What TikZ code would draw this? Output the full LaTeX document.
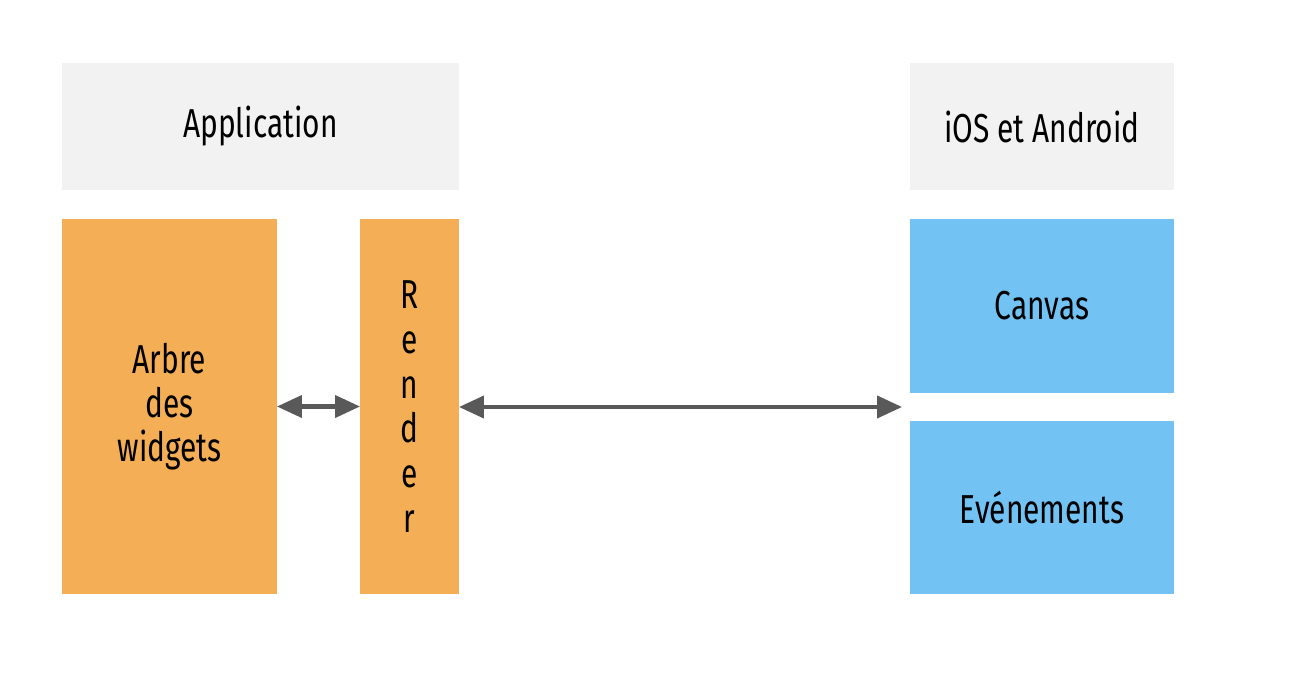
\documentclass[tikz,border=0pt]{standalone}
\usepackage{fontspec}
\setmainfont{Fira Sans}[FakeStretch=0.74]
\usepackage{tikz}
\usetikzlibrary{arrows.meta}

\definecolor{headgray}{HTML}{F2F2F2}
\definecolor{apporange}{HTML}{F4AE55}
\definecolor{osblue}{HTML}{72C2F4}
\definecolor{linkgray}{HTML}{595959}

\begin{document}
\begin{tikzpicture}[x=0.02cm,y=-0.02cm,
    box/.style={inner sep=0pt,outer sep=0pt,font=\fontsize{23}{25}\selectfont,align=center},
    link/.style={draw=linkgray,line width=2.3pt,{Triangle[length=0.5cm,width=0.44cm]}-{Triangle[length=0.5cm,width=0.44cm]}}]
  % Boundary
  \path[use as bounding box] (0,0) rectangle (1304,676);
  % Headers
  \node[box,fill=headgray,minimum width=7.94cm,minimum height=2.54cm] (app) at (260.5,126.5) {Application};
  \node[box,fill=headgray,minimum width=5.28cm,minimum height=2.54cm] (os) at (1042,126.5) {iOS et Android};
  % Application side
  \node[box,fill=apporange,minimum width=4.3cm,minimum height=7.5cm] (arbre) at (169.5,406.5) {Arbre\\des\\widgets};
  \node[box,fill=apporange,minimum width=1.98cm,minimum height=7.5cm,
        font=\fontsize{23}{25.5}\selectfont] (render) at (409.5,406.5) {R\\e\\n\\d\\e\\r};
  % Platform side
  \node[box,fill=osblue,minimum width=5.28cm,minimum height=3.48cm] (canvas) at (1042,306) {Canvas};
  \node[box,fill=osblue,minimum width=5.28cm,minimum height=3.46cm] (events) at (1042,507.5) {Evénements};
  \coordinate (osin) at (902,407);
  % Links
  \draw[link] (arbre.east) -- (render.west);
  \draw[link] (render.east |- osin) -- (osin);
\end{tikzpicture}
\end{document}
